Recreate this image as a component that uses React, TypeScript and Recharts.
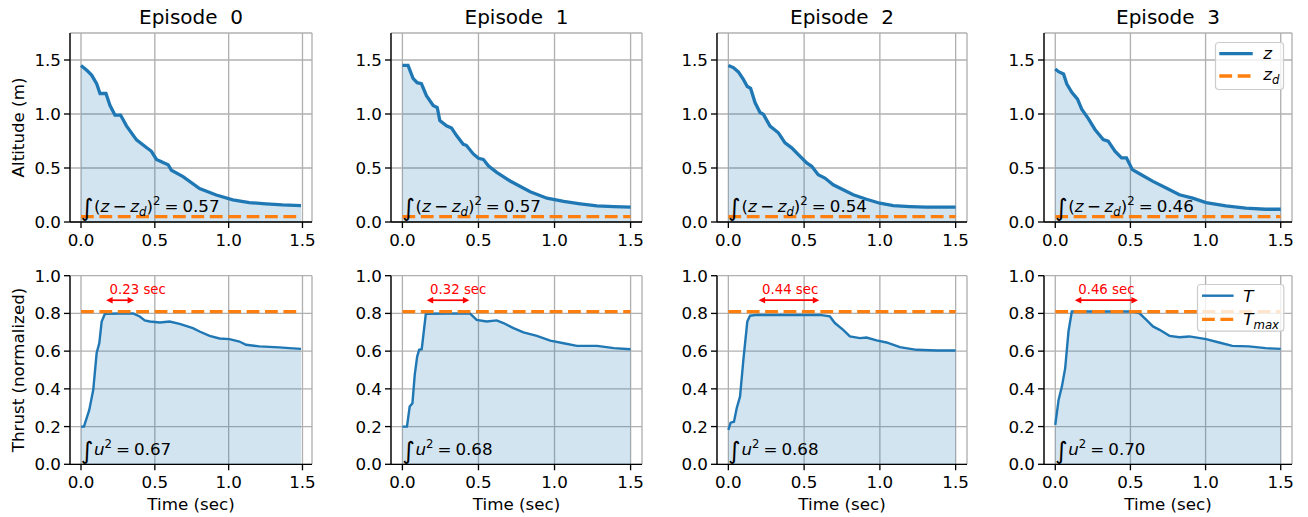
import React from 'react';
import {
  ComposedChart, Area, Line, XAxis, YAxis, CartesianGrid,
  ReferenceLine, ReferenceDot, Legend, Label,
} from 'recharts';

const FONT = '"DejaVu Sans", sans-serif';
const BLUE = '#1f77b4';
const ORANGE = '#ff7f0e';
const RED = '#ff0000';
const GRID = '#b0b0b0';

// ---- values ----
const titles = ['Episode  0', 'Episode  1', 'Episode  2', 'Episode  3'];
const tEnd = [1.49, 1.5, 1.5, 1.5];
const zDesired = 0.05;
const thrustMax = 0.81;
const zCost = ['0.57', '0.57', '0.54', '0.46'];
const uCost = ['0.67', '0.68', '0.68', '0.70'];
const satText = ['0.23 sec', '0.32 sec', '0.44 sec', '0.46 sec'];
const satStart = [0.15, 0.14, 0.18, 0.11];
const satEnd = [0.38, 0.46, 0.62, 0.57];

const xTicks = [0, 0.5, 1.0, 1.5];
const zTicks = [0, 0.5, 1.0, 1.5];
const uTicks = [0, 0.2, 0.4, 0.6, 0.8, 1.0];

// altitude z(t)
const zT0 = [0, 0.043, 0.072, 0.106, 0.129, 0.169, 0.196, 0.23, 0.268, 0.308, 0.376, 0.443, 0.477, 0.511, 0.556, 0.59, 0.612, 0.691, 0.803, 0.916, 1.028, 1.14, 1.252, 1.365, 1.49];
const z0 = [1.45, 1.40, 1.36, 1.28, 1.19, 1.19, 1.08, 0.99, 0.99, 0.89, 0.76, 0.69, 0.655, 0.58, 0.55, 0.53, 0.48, 0.42, 0.31, 0.25, 0.205, 0.18, 0.168, 0.158, 0.152];
const zT1 = [0, 0.037, 0.07, 0.097, 0.125, 0.158, 0.202, 0.229, 0.246, 0.29, 0.323, 0.356, 0.4, 0.42, 0.466, 0.5, 0.532, 0.565, 0.62, 0.708, 0.84, 0.95, 1.06, 1.169, 1.279, 1.389, 1.5];
const z1 = [1.45, 1.45, 1.33, 1.29, 1.28, 1.17, 1.08, 1.06, 0.94, 0.89, 0.87, 0.80, 0.72, 0.71, 0.63, 0.59, 0.58, 0.52, 0.46, 0.38, 0.28, 0.22, 0.19, 0.168, 0.149, 0.143, 0.137];
const zT2 = [0, 0.033, 0.066, 0.099, 0.125, 0.147, 0.176, 0.209, 0.231, 0.275, 0.33, 0.374, 0.418, 0.462, 0.517, 0.55, 0.593, 0.637, 0.692, 0.758, 0.824, 0.912, 1.0, 1.088, 1.198, 1.308, 1.5];
const z2 = [1.45, 1.43, 1.39, 1.32, 1.255, 1.237, 1.106, 1.013, 0.998, 0.888, 0.826, 0.733, 0.687, 0.624, 0.547, 0.516, 0.438, 0.407, 0.345, 0.298, 0.252, 0.211, 0.174, 0.152, 0.143, 0.137, 0.137];
const zT3 = [0, 0.022, 0.055, 0.077, 0.11, 0.148, 0.176, 0.22, 0.264, 0.319, 0.352, 0.397, 0.441, 0.474, 0.513, 0.561, 0.65, 0.738, 0.826, 0.914, 1.003, 1.135, 1.267, 1.4, 1.5];
const z3 = [1.417, 1.392, 1.37, 1.277, 1.2, 1.137, 1.044, 0.957, 0.857, 0.764, 0.749, 0.655, 0.593, 0.593, 0.485, 0.447, 0.376, 0.314, 0.252, 0.221, 0.18, 0.149, 0.128, 0.118, 0.118];

// thrust T(t)
const uT0 = [0, 0.02, 0.056, 0.083, 0.106, 0.124, 0.14, 0.162, 0.353, 0.398, 0.432, 0.466, 0.534, 0.6, 0.668, 0.758, 0.803, 0.871, 0.938, 1.006, 1.073, 1.118, 1.208, 1.343, 1.41, 1.49];
const u0 = [0.2, 0.2, 0.288, 0.395, 0.59, 0.643, 0.757, 0.798, 0.80, 0.784, 0.763, 0.757, 0.752, 0.757, 0.745, 0.722, 0.704, 0.681, 0.667, 0.664, 0.651, 0.634, 0.625, 0.62, 0.616, 0.612];
const uT1 = [0, 0.03, 0.048, 0.066, 0.081, 0.097, 0.11, 0.127, 0.154, 0.444, 0.488, 0.554, 0.62, 0.664, 0.73, 0.796, 0.884, 0.972, 1.06, 1.147, 1.28, 1.39, 1.5];
const u1 = [0.2, 0.2, 0.306, 0.324, 0.474, 0.571, 0.607, 0.61, 0.798, 0.80, 0.766, 0.757, 0.763, 0.749, 0.722, 0.699, 0.681, 0.656, 0.642, 0.628, 0.628, 0.616, 0.61];
const uT2 = [0, 0.015, 0.037, 0.055, 0.077, 0.099, 0.125, 0.143, 0.187, 0.604, 0.67, 0.703, 0.758, 0.802, 0.868, 0.912, 0.978, 1.044, 1.132, 1.242, 1.374, 1.5];
const u2 = [0.182, 0.221, 0.226, 0.297, 0.359, 0.554, 0.757, 0.788, 0.792, 0.792, 0.784, 0.749, 0.713, 0.678, 0.669, 0.672, 0.657, 0.646, 0.621, 0.607, 0.603, 0.603];
const uT3 = [0, 0.022, 0.044, 0.066, 0.088, 0.11, 0.518, 0.561, 0.606, 0.65, 0.694, 0.76, 0.826, 0.892, 1.003, 1.09, 1.178, 1.288, 1.4, 1.5];
const u3 = [0.209, 0.341, 0.412, 0.51, 0.704, 0.81, 0.81, 0.80, 0.766, 0.731, 0.713, 0.681, 0.674, 0.678, 0.664, 0.646, 0.628, 0.625, 0.616, 0.612];

const altitudeT = [zT0, zT1, zT2, zT3];
const altitudeV = [z0, z1, z2, z3];
const thrustT = [uT0, uT1, uT2, uT3];
const thrustV = [u0, u1, u2, u3];

// ---- layout (px) ----
const plotLeft = [70, 391, 717, 1044];
const plotRight = [312, 642, 967, 1292];
const rowTop = [0, 250];
const rowHeight = [250, 267];
const plotTop = [33, 25.7];
const xAxisH = [28, 52.7];
const Y_AXIS_W = 70;
const PAD_R = 10;
const FS = 16.7;
const SMALL = 11.7;
const DASH = '12.8 5.6';

const tickStyle = { fontFamily: FONT, fontSize: FS, fill: '#000' };
const spine = { stroke: '#000', strokeWidth: 1.33 };

const ZCostText = (value: string) => (p: any) => (
  <text x={p.cx} y={p.cy} fontFamily={FONT} fontSize={FS} fill="#000">
    <tspan fontSize={24} dy={4}>∫</tspan>
    <tspan dy={-4} dx={0.5}>(</tspan>
    <tspan fontStyle="italic">z</tspan>
    <tspan dx={3.5}>−</tspan>
    <tspan dx={3.5} fontStyle="italic">z</tspan>
    <tspan fontSize={SMALL} fontStyle="italic" dy={3.5}>d</tspan>
    <tspan dy={-3.5}>)</tspan>
    <tspan fontSize={SMALL} dy={-7}>2</tspan>
    <tspan dx={4} dy={7}>=</tspan>
    <tspan dx={4}>{value}</tspan>
  </text>
);

const UCostText = (value: string) => (p: any) => (
  <text x={p.cx} y={p.cy} fontFamily={FONT} fontSize={FS} fill="#000">
    <tspan fontSize={24} dy={4}>∫</tspan>
    <tspan dy={-4} dx={0.5} fontStyle="italic">u</tspan>
    <tspan fontSize={SMALL} dy={-7}>2</tspan>
    <tspan dx={4} dy={7}>=</tspan>
    <tspan dx={4}>{value}</tspan>
  </text>
);

const SatArrow = (label: string) => (p: any) => {
  const a = p.x1 + 3;
  const b = p.x2 - 3;
  const y = p.y1;
  const hl = 6.5;
  const hw = 3.2;
  return (
    <g>
      <line x1={a + hl - 1} y1={y} x2={b - hl + 1} y2={y} stroke={RED} strokeWidth={1.7} />
      <path d={`M${a},${y}L${a + hl},${y - hw}L${a + hl},${y + hw}Z`} fill={RED} />
      <path d={`M${b},${y}L${b - hl},${y - hw}L${b - hl},${y + hw}Z`} fill={RED} />
      <text x={a + 3.4} y={y - 6.4} fill={RED} fontSize={13.3} fontFamily={FONT}>{label}</text>
    </g>
  );
};

type LegendItem = { name: string; sub?: string; color: string; dashed: boolean; lw: number };
const legendTop: LegendItem[] = [
  { name: 'z', color: BLUE, dashed: false, lw: 3.3 },
  { name: 'z', sub: 'd', color: ORANGE, dashed: true, lw: 3.3 },
];
const legendBottom: LegendItem[] = [
  { name: 'T', color: BLUE, dashed: false, lw: 2.4 },
  { name: 'T', sub: 'max', color: ORANGE, dashed: true, lw: 3.3 },
];

function LegendBox({ items, w, h, x0, x1, tx, rows, dys }: {
  items: LegendItem[]; w: number; h: number; x0: number; x1: number; tx: number; rows: number[]; dys: number[];
}) {
  return (
    <svg width={w} height={h} style={{ display: 'block', overflow: 'visible' }}>
      <rect x={0.5} y={0.5} width={w - 1} height={h - 1} rx={3} fill="#fff" fillOpacity={0.8} stroke="#cccccc" strokeWidth={1.2} />
      {items.map((it, i) => (
        <g key={i}>
          <line x1={x0} x2={x1} y1={rows[i]} y2={rows[i]} stroke={it.color} strokeWidth={it.lw}
            strokeDasharray={it.dashed ? DASH : undefined} />
          <text x={tx} y={rows[i] + dys[i]} fontFamily={FONT} fontSize={FS} fontStyle="italic" fill="#000">
            {it.name}
            {it.sub ? <tspan fontSize={SMALL} dy={3.5}>{it.sub}</tspan> : null}
          </text>
        </g>
      ))}
    </svg>
  );
}

function Panel({ row, col }: { row: number; col: number }) {
  const isTop = row === 0;
  const ts = isTop ? altitudeT[col] : thrustT[col];
  const vs = isTop ? altitudeV[col] : thrustV[col];
  const data = ts.map((t, i) => ({ t, v: vs[i] }));
  const end = tEnd[col];
  const refVal = isTop ? zDesired : thrustMax;
  const refData = [0, end].map((t) => ({ t, ref: refVal }));
  const plotW = plotRight[col] - plotLeft[col];
  const width = Y_AXIS_W + plotW + PAD_R;
  const height = rowHeight[row];
  const xDomain = [-0.05 * end, 1.05 * end];

  return (
    <div style={{ position: 'absolute', left: plotLeft[col] - Y_AXIS_W, top: rowTop[row], width, height }}>
      {isTop && (
        <div style={{
          position: 'absolute', left: Y_AXIS_W, width: plotW, top: 7, textAlign: 'center',
          fontFamily: FONT, fontSize: 20, lineHeight: '20px', whiteSpace: 'pre', color: '#000', zIndex: 2,
        }}>{titles[col]}</div>
      )}
      <ComposedChart width={width} height={height} data={data}
        margin={{ top: plotTop[row], right: PAD_R, bottom: 0, left: 0 }}>
        <CartesianGrid stroke={GRID} strokeWidth={1.33} />
        <XAxis dataKey="t" type="number" domain={xDomain} allowDataOverflow ticks={xTicks} interval={0}
          tickFormatter={(v: number) => v.toFixed(1)} height={xAxisH[row]} tick={tickStyle}
          tickSize={6} tickMargin={6} axisLine={spine} tickLine={spine}>
          {!isTop && (
            <Label content={(p: any) => (
              <text x={p.viewBox.x + p.viewBox.width / 2} y={p.viewBox.y + 46} textAnchor="middle"
                fontFamily={FONT} fontSize={FS} fill="#000">Time (sec)</text>
            )} />
          )}
        </XAxis>
        <XAxis xAxisId="top" orientation="top" type="number" domain={xDomain} allowDataOverflow height={0}
          tick={false} tickLine={false} axisLine={spine} />
        <YAxis type="number" domain={isTop ? [0, 1.75] : [0, 1]} allowDataOverflow ticks={isTop ? zTicks : uTicks}
          interval={0} tickFormatter={(v: number) => v.toFixed(1)} width={Y_AXIS_W} tick={tickStyle}
          tickSize={6} tickMargin={3} axisLine={spine} tickLine={spine}>
          {col === 0 && (
            <Label content={(p: any) => {
              const cx = p.viewBox.x + 17.5;
              const cy = p.viewBox.y + p.viewBox.height / 2;
              return (
                <text x={cx} y={cy} transform={`rotate(-90, ${cx}, ${cy})`} textAnchor="middle"
                  dominantBaseline="central" fontFamily={FONT} fontSize={FS} fill="#000">
                  {isTop ? 'Altitude (m)' : 'Thrust (normalized)'}
                </text>
              );
            }} />
          )}
        </YAxis>
        <YAxis yAxisId="right" orientation="right" width={0} tick={false} tickLine={false} axisLine={spine} />

        <Area dataKey="v" type="linear" stroke="none" fill={BLUE} fillOpacity={0.2}
          isAnimationActive={false} legendType="none" dot={false} activeDot={false} />
        <Line dataKey="v" type="linear" stroke={BLUE} strokeWidth={isTop ? 3.3 : 2.4}
          dot={false} activeDot={false} isAnimationActive={false} name={isTop ? 'z' : 'T'} />
        <Line data={refData} dataKey="ref" type="linear" stroke={ORANGE} strokeWidth={3.3}
          strokeDasharray={DASH} dot={false} activeDot={false} isAnimationActive={false}
          name={isTop ? 'z_d' : 'T_max'} />

        {isTop ? (
          <ReferenceDot x={0} y={0.09} r={0} shape={ZCostText(zCost[col])} />
        ) : (
          <ReferenceDot x={0} y={0.05} r={0} shape={UCostText(uCost[col])} />
        )}
        {!isTop && (
          <ReferenceLine segment={[{ x: satStart[col], y: 0.87 }, { x: satEnd[col], y: 0.87 }]}
            shape={SatArrow(satText[col])} />
        )}

        {col === 3 && (
          <Legend layout="vertical" align="center" verticalAlign="middle"
            wrapperStyle={isTop
              ? { left: 241, top: 41.7, width: 69, height: 48 }
              : { left: 222.7, top: 34, width: 87.3, height: 47.7 }}
            content={() => isTop
              ? <LegendBox items={legendTop} w={69} h={48} x0={4.3} x1={37.7} tx={48.3} rows={[11.6, 34]} dys={[5, 4.3]} />
              : <LegendBox items={legendBottom} w={87.3} h={47.7} x0={5} x1={36.6} tx={46.3} rows={[11.7, 35.3]} dys={[6, 5.7]} />}
          />
        )}
      </ComposedChart>
    </div>
  );
}

export default function App() {
  return (
    <div style={{ position: 'absolute', left: 0, top: 0, width: 1308, height: 517, background: '#fff', overflow: 'hidden' }}>
      {[0, 1].map((row) => [0, 1, 2, 3].map((col) => <Panel key={`${row}-${col}`} row={row} col={col} />))}
    </div>
  );
}
